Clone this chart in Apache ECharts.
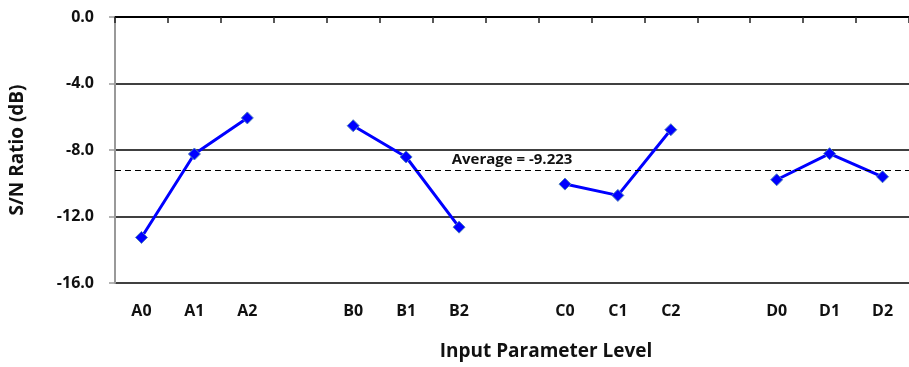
<!DOCTYPE html>
<html>
<head>
<meta charset="utf-8">
<script src="https://cdn.jsdelivr.net/npm/echarts@6/dist/echarts.min.js"></script>
<style>
  html, body { margin: 0; padding: 0; background: #fff; }
  #sn { width: 909px; height: 367px; }
</style>
</head>
<body>
<div id="sn"></div>
<script>
// levels, blank entries split the factor groups
const levels = ['A0', 'A1', 'A2', '', 'B0', 'B1', 'B2', '', 'C0', 'C1', 'C2', '', 'D0', 'D1', 'D2']
const snRatio = [-13.26, -8.24, -6.07, null, -6.54, -8.42, -12.64, null, -10.05, -10.73, -6.78, null, -9.79, -8.22, -9.61]
const average = -9.223
const yTicks = { min: -16, max: 0, step: 4 }

const font = '"Open Sans", "DejaVu Sans", sans-serif'
const myChart = echarts.init(document.getElementById('sn'))

const option = {
  animation: false,
  backgroundColor: '#fff',
  grid: { left: 110, top: 17, width: 810, height: 266 },
  xAxis: {
    type: 'category',
    data: levels,
    boundaryGap: true,
    axisLine: { lineStyle: { color: '#000', width: 2 } },
    axisTick: { show: true, inside: false, length: 6, lineStyle: { color: '#222', width: 1.5 } },
    axisLabel: {
      interval: 0,
      margin: 20,
      color: '#111',
      fontFamily: font,
      fontWeight: 'bold',
      fontSize: 16
    },
    splitLine: { show: false }
  },
  yAxis: {
    type: 'value',
    min: yTicks.min,
    max: yTicks.max,
    interval: yTicks.step,
    name: 'S/N Ratio (dB)',
    nameLocation: 'middle',
    nameGap: 88,
    nameTextStyle: { color: '#111', fontFamily: font, fontWeight: 'bold', fontSize: 19 },
    axisLine: { show: true, lineStyle: { color: '#999', width: 2 } },
    axisTick: { show: true, length: 6, lineStyle: { color: '#999', width: 1.5 } },
    axisLabel: {
      margin: 21,
      color: '#111',
      fontFamily: font,
      fontWeight: 'bold',
      fontSize: 16,
      formatter: function (v) {
        return v.toFixed(1)
      }
    },
    splitLine: { show: true, lineStyle: { color: '#000', width: 1.5 } }
  },
  graphic: [
    {
      type: 'text',
      x: 546,
      y: 352,
      style: {
        text: 'Input Parameter Level',
        fill: '#111',
        font: 'bold 19px ' + font,
        textAlign: 'center',
        textVerticalAlign: 'middle'
      }
    }
  ],
  series: [
    {
      type: 'line',
      data: snRatio,
      connectNulls: false,
      symbol: 'diamond',
      symbolSize: 12,
      lineStyle: { color: '#0000ff', width: 3 },
      itemStyle: { color: '#0000ff', borderColor: '#4f81bd', borderWidth: 1 },
      markLine: {
        silent: true,
        symbol: 'none',
        lineStyle: { color: '#000', width: 1.2, type: [6, 4] },
        label: {
          show: true,
          position: 'middle',
          distance: 3,
          formatter: 'Average = ' + average.toFixed(3),
          color: '#111',
          fontFamily: font,
          fontWeight: 'bold',
          fontSize: 15
        },
        data: [{ yAxis: average }]
      }
    }
  ]
}
myChart.setOption(option)
</script>
</body>
</html>
